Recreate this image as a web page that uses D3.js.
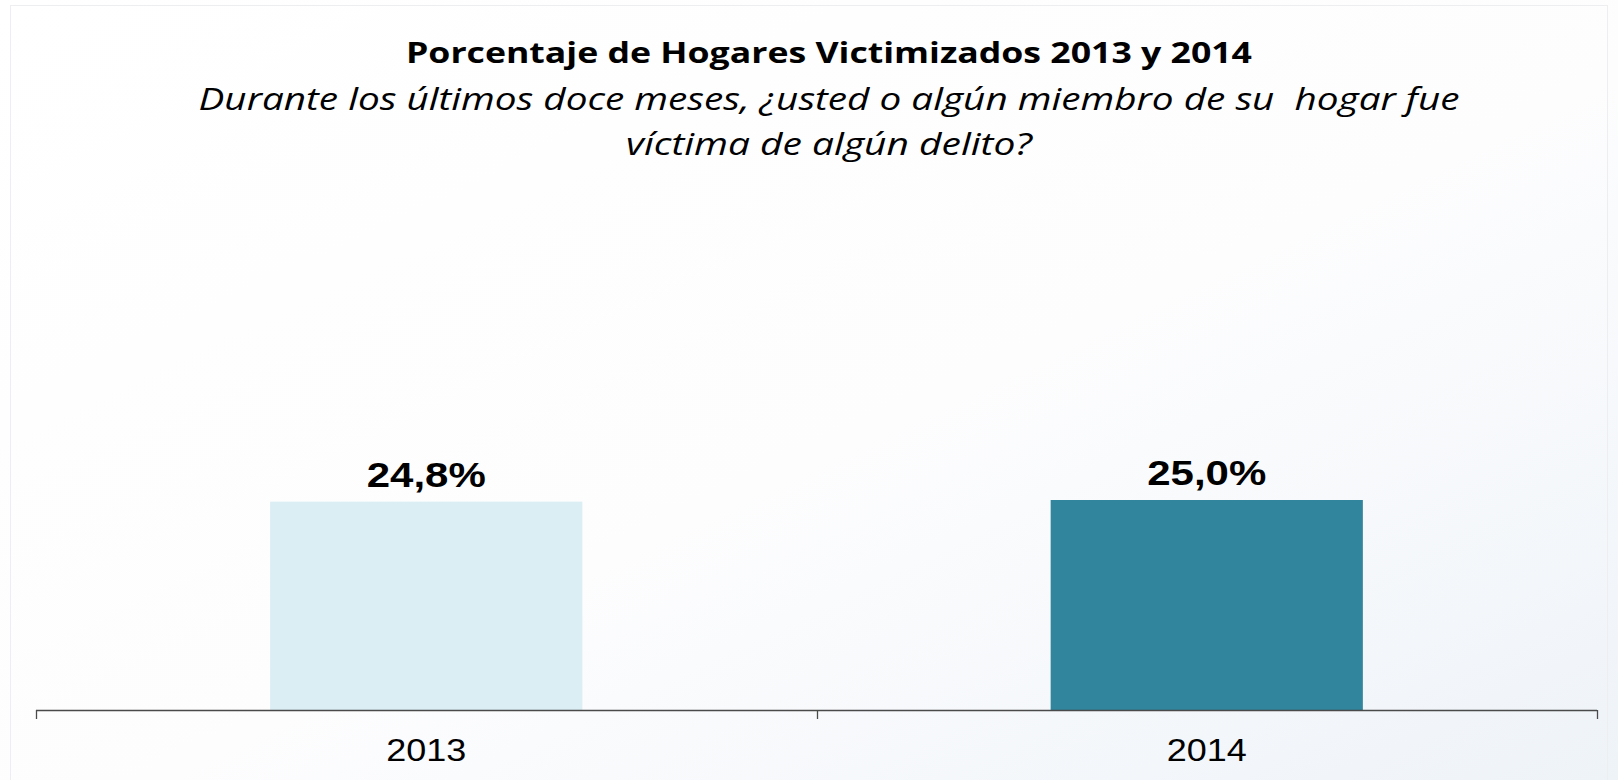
<!DOCTYPE html>
<html>
<head>
<meta charset="utf-8">
<script src="https://cdn.jsdelivr.net/npm/d3@7"></script>
<style>
  body { margin: 0; background: #fff; }
  svg { display: block; }
</style>
</head>
<body>
<div id="chart-area"></div>
<script>
var years = ["2013", "2014"];
var values = [24.8, 25.0];
var labels = ["24,8%", "25,0%"];
var colors = ["#DAEEF3", "#31859C"];

var title = "Porcentaje de Hogares Victimizados 2013 y 2014";
var subtitle = ["Durante los últimos doce meses, ¿usted o algún miembro de su  hogar fue",
                "víctima de algún delito?"];

var W = 1618, H = 780;

var svg = d3.select("#chart-area").append("svg")
	.attr("width", W)
	.attr("height", H);

// soft background like the slide
var defs = svg.append("defs");
var grad = defs.append("linearGradient")
	.attr("id", "bg")
	.attr("x1", "0").attr("y1", "0")
	.attr("x2", "1").attr("y2", "1");
grad.append("stop").attr("offset", "0").attr("stop-color", "#ffffff");
grad.append("stop").attr("offset", "0.55").attr("stop-color", "#fdfdfe");
grad.append("stop").attr("offset", "1").attr("stop-color", "#eef3f8");

svg.append("rect")
	.attr("width", W).attr("height", H)
	.attr("fill", "url(#bg)");
svg.append("rect")
	.attr("x", 10.5).attr("y", 5.5)
	.attr("width", 1597).attr("height", 790)
	.attr("fill", "none")
	.attr("stroke", "#eceef0");

// titles
svg.append("text")
	.attr("x", 829).attr("y", 63)
	.attr("text-anchor", "middle")
	.attr("font-family", "'Open Sans', sans-serif")
	.attr("font-weight", "bold")
	.attr("font-size", "29px")
	.attr("textLength", 846)
	.attr("lengthAdjust", "spacingAndGlyphs")
	.attr("fill", "#000")
	.text(title);

var subLens = [1261, 406];
subtitle.forEach((s, i) => {
	svg.append("text")
		.attr("x", 829).attr("y", 110 + i * 45)
		.attr("text-anchor", "middle")
		.attr("font-family", "'Open Sans', sans-serif")
		.attr("font-style", "italic")
		.attr("font-size", "31px")
		.attr("textLength", subLens[i])
		.attr("lengthAdjust", "spacingAndGlyphs")
		.attr("fill", "#000")
		.style("white-space", "pre")
		.text(s);
});

// scales
var x = d3.scaleBand()
	.domain(years)
	.range([36, 1597])
	.paddingInner(0.6)
	.paddingOuter(0.3);

var y = d3.scaleLinear()
	.domain([0, 50])
	.range([710, 290]);

var group = svg.append("g");

group.selectAll("rect.bar")
	.data(years)
	.enter()
	.append("rect")
	.attr("class", "bar")
	.attr("x", (d) => x(d))
	.attr("y", (d, i) => y(values[i]))
	.attr("width", x.bandwidth())
	.attr("height", (d, i) => y(0) - y(values[i]))
	.attr("fill", (d, i) => colors[i]);

group.selectAll("text.val")
	.data(years)
	.enter()
	.append("text")
	.attr("class", "val")
	.attr("x", (d) => x(d) + x.bandwidth() / 2)
	.attr("y", (d, i) => y(values[i]) - 15)
	.attr("text-anchor", "middle")
	.attr("font-family", "'Liberation Sans', Arial, sans-serif")
	.attr("font-weight", "bold")
	.attr("font-size", "35px")
	.attr("textLength", 119)
	.attr("lengthAdjust", "spacingAndGlyphs")
	.attr("fill", "#000")
	.text((d, i) => labels[i]);

// x axis: ticks at band edges, labels centred
var axisG = svg.append("g")
	.attr("transform", "translate(0,710)");

axisG.append("line")
	.attr("x1", 36).attr("x2", 1597)
	.attr("y1", 0.5).attr("y2", 0.5)
	.attr("stroke", "#4a4a4a")
	.attr("stroke-width", 1.3);

var edges = x.domain().map((d) => x(d) - x.step() * x.paddingInner() / 2);
edges.push(x.range()[1]);
axisG.selectAll("line.tick")
	.data(edges)
	.enter()
	.append("line")
	.attr("class", "tick")
	.attr("x1", (d) => Math.round(d) + 0.5)
	.attr("x2", (d) => Math.round(d) + 0.5)
	.attr("y1", 0).attr("y2", 9)
	.attr("stroke", "#4a4a4a")
	.attr("stroke-width", 1.3);

axisG.selectAll("text.lab")
	.data(years)
	.enter()
	.append("text")
	.attr("class", "lab")
	.attr("x", (d) => x(d) + x.bandwidth() / 2)
	.attr("y", 51)
	.attr("text-anchor", "middle")
	.attr("font-family", "'Liberation Sans', Arial, sans-serif")
	.attr("font-size", "32px")
	.attr("textLength", 80)
	.attr("lengthAdjust", "spacingAndGlyphs")
	.attr("fill", "#000")
	.text((d) => d);
</script>
</body>
</html>
